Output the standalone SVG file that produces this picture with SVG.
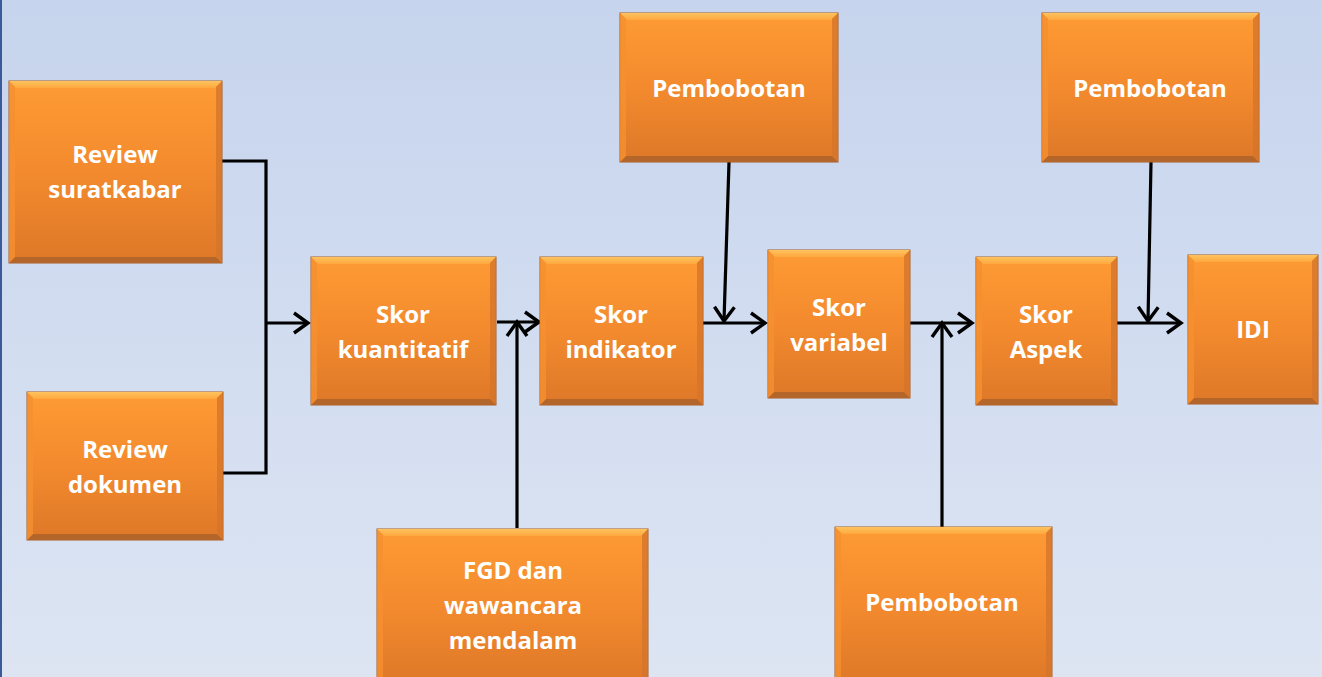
<svg xmlns="http://www.w3.org/2000/svg" width="1322" height="677" viewBox="0 0 1322 677">
<defs>
<linearGradient id="bg" x1="0" y1="0" x2="0" y2="1">
<stop offset="0" stop-color="#c6d4ed"/>
<stop offset="1" stop-color="#dde5f3"/>
</linearGradient>
<linearGradient id="og" x1="0" y1="0" x2="0" y2="1">
<stop offset="0" stop-color="#fe9b34"/>
<stop offset="0.5" stop-color="#f38a2e"/>
<stop offset="1" stop-color="#de7828"/>
</linearGradient>
<linearGradient id="tg" x1="0" y1="0" x2="0" y2="1">
<stop offset="0" stop-color="#ffc35e"/>
<stop offset="1" stop-color="#ffa83f"/>
</linearGradient>
<marker id="arr" viewBox="-18 -13 21 26" refX="0" refY="0" markerWidth="21" markerHeight="26" markerUnits="userSpaceOnUse" orient="auto">
<path d="M-14,-10 L0,0 L-14,10" fill="none" stroke="#000" stroke-width="3.4"/>
</marker>
<style>
.base{fill:url(#og);stroke:#a55a22;stroke-width:1}
.bt{fill:url(#tg)}
.bb{fill:#b4652a}
.bl{fill:#f5902f;opacity:0.8}
.br{fill:#d5752a;opacity:0.8}
.lbl{font-family:"Open Sans","Liberation Sans",sans-serif;font-weight:bold;font-size:24px;fill:#fff;text-anchor:middle}
.c{fill:none;stroke:#000;stroke-width:3.2}
</style>
</defs>
<rect x="0" y="0" width="1322" height="677" fill="url(#bg)"/>
<rect x="0" y="0" width="2" height="677" fill="#3a5a9a"/>

<g id="connectors">
<path class="c" d="M222,161 H266 V473 H223"/>
<path class="c" d="M266,323 H308" marker-end="url(#arr)"/>
<path class="c" d="M497,322 H539" marker-end="url(#arr)"/>
<path class="c" d="M517,528 V322" marker-end="url(#arr)"/>
<path class="c" d="M729,162 L724,321" marker-end="url(#arr)"/>
<path class="c" d="M703,323 H765" marker-end="url(#arr)"/>
<path class="c" d="M910,323 H972" marker-end="url(#arr)"/>
<path class="c" d="M942,527 V323" marker-end="url(#arr)"/>
<path class="c" d="M1117,323 H1181" marker-end="url(#arr)"/>
<path class="c" d="M1151,162 L1148,321" marker-end="url(#arr)"/>
</g>

<g id="review-suratkabar">
<rect class="base" x="9" y="81" width="213" height="182"/>
<polygon class="bt" points="9,81 222,81 215,88 16,88"/>
<polygon class="bb" points="9,263 222,263 216,257 15,257"/>
<polygon class="bl" points="9,81 15,87 15,257 9,263"/>
<polygon class="br" points="222,81 222,263 216,257 216,87"/>
<text class="lbl" x="115" y="163">Review</text>
<text class="lbl" x="115" y="198">suratkabar</text>
</g>

<g id="review-dokumen">
<rect class="base" x="27" y="392" width="196" height="148"/>
<polygon class="bt" points="27,392 223,392 216,399 34,399"/>
<polygon class="bb" points="27,540 223,540 217,534 33,534"/>
<polygon class="bl" points="27,392 33,398 33,534 27,540"/>
<polygon class="br" points="223,392 223,540 217,534 217,398"/>
<text class="lbl" x="125" y="458">Review</text>
<text class="lbl" x="125" y="493">dokumen</text>
</g>

<g id="skor-kuantitatif">
<rect class="base" x="311" y="257" width="185" height="148"/>
<polygon class="bt" points="311,257 496,257 489,264 318,264"/>
<polygon class="bb" points="311,405 496,405 490,399 317,399"/>
<polygon class="bl" points="311,257 317,263 317,399 311,405"/>
<polygon class="br" points="496,257 496,405 490,399 490,263"/>
<text class="lbl" x="403" y="323">Skor</text>
<text class="lbl" x="403" y="358">kuantitatif</text>
</g>

<g id="skor-indikator">
<rect class="base" x="540" y="257" width="163" height="148"/>
<polygon class="bt" points="540,257 703,257 696,264 547,264"/>
<polygon class="bb" points="540,405 703,405 697,399 546,399"/>
<polygon class="bl" points="540,257 546,263 546,399 540,405"/>
<polygon class="br" points="703,257 703,405 697,399 697,263"/>
<text class="lbl" x="621" y="323">Skor</text>
<text class="lbl" x="621" y="358">indikator</text>
</g>

<g id="pembobotan-1">
<rect class="base" x="620" y="13" width="218" height="149"/>
<polygon class="bt" points="620,13 838,13 831,20 627,20"/>
<polygon class="bb" points="620,162 838,162 832,156 626,156"/>
<polygon class="bl" points="620,13 626,19 626,156 620,162"/>
<polygon class="br" points="838,13 838,162 832,156 832,19"/>
<text class="lbl" x="729" y="97">Pembobotan</text>
</g>

<g id="skor-variabel">
<rect class="base" x="768" y="250" width="142" height="148"/>
<polygon class="bt" points="768,250 910,250 903,257 775,257"/>
<polygon class="bb" points="768,398 910,398 904,392 774,392"/>
<polygon class="bl" points="768,250 774,256 774,392 768,398"/>
<polygon class="br" points="910,250 910,398 904,392 904,256"/>
<text class="lbl" x="839" y="316">Skor</text>
<text class="lbl" x="839" y="351">variabel</text>
</g>

<g id="skor-aspek">
<rect class="base" x="976" y="257" width="141" height="148"/>
<polygon class="bt" points="976,257 1117,257 1110,264 983,264"/>
<polygon class="bb" points="976,405 1117,405 1111,399 982,399"/>
<polygon class="bl" points="976,257 982,263 982,399 976,405"/>
<polygon class="br" points="1117,257 1117,405 1111,399 1111,263"/>
<text class="lbl" x="1046" y="323">Skor</text>
<text class="lbl" x="1046" y="358">Aspek</text>
</g>

<g id="pembobotan-2">
<rect class="base" x="1042" y="13" width="217" height="149"/>
<polygon class="bt" points="1042,13 1259,13 1252,20 1049,20"/>
<polygon class="bb" points="1042,162 1259,162 1253,156 1048,156"/>
<polygon class="bl" points="1042,13 1048,19 1048,156 1042,162"/>
<polygon class="br" points="1259,13 1259,162 1253,156 1253,19"/>
<text class="lbl" x="1150" y="97">Pembobotan</text>
</g>

<g id="idi">
<rect class="base" x="1188" y="255" width="130" height="149"/>
<polygon class="bt" points="1188,255 1318,255 1311,262 1195,262"/>
<polygon class="bb" points="1188,404 1318,404 1312,398 1194,398"/>
<polygon class="bl" points="1188,255 1194,261 1194,398 1188,404"/>
<polygon class="br" points="1318,255 1318,404 1312,398 1312,261"/>
<text class="lbl" x="1253" y="338">IDI</text>
</g>

<g id="fgd">
<rect class="base" x="377" y="529" width="271" height="155"/>
<polygon class="bt" points="377,529 648,529 641,536 384,536"/>
<polygon class="bl" points="377,529 383,535 383,684 377,684"/>
<polygon class="br" points="648,529 648,684 642,684 642,535"/>
<text class="lbl" x="513" y="579">FGD dan</text>
<text class="lbl" x="513" y="614">wawancara</text>
<text class="lbl" x="513" y="649">mendalam</text>
</g>

<g id="pembobotan-3">
<rect class="base" x="835" y="527" width="217" height="157"/>
<polygon class="bt" points="835,527 1052,527 1045,534 842,534"/>
<polygon class="bl" points="835,527 841,533 841,684 835,684"/>
<polygon class="br" points="1052,527 1052,684 1046,684 1046,533"/>
<text class="lbl" x="942" y="611">Pembobotan</text>
</g>
</svg>
